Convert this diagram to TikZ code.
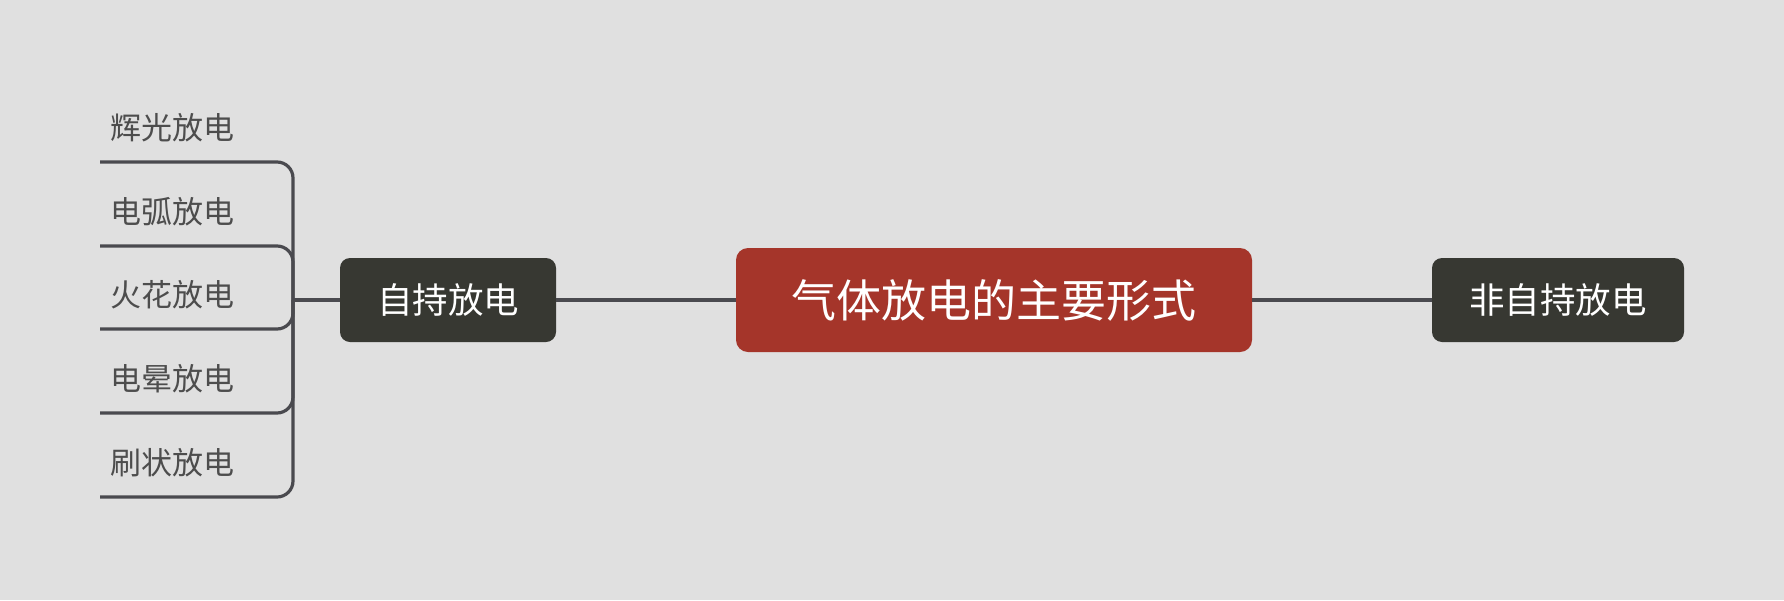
\documentclass[tikz,border=0pt]{standalone}
\usepackage{fontspec}
\newfontfamily\cjk{Noto Sans CJK SC}
\definecolor{bg}{HTML}{E0E0E0}
\definecolor{boxdark}{HTML}{373832}
\definecolor{boxred}{HTML}{A5352A}
\definecolor{linegray}{HTML}{4A4A4F}
\definecolor{leafgray}{HTML}{4D4D4D}

\begin{document}
\begin{tikzpicture}[x=1pt, y=-1pt,
	topic/.style={fill=boxdark, text=white, rounded corners=10pt, minimum height=84pt, inner sep=0pt, font=\cjk\fontsize{35.5}{36}\selectfont},
	leaf/.style={anchor=south west, inner xsep=10pt, inner ysep=22pt, text depth=0pt, text=leafgray, font=\cjk\fontsize{31}{31}\selectfont},
	link/.style={draw=linegray, line width=3.2pt}]
	\fill[bg] (0,0) rectangle (1784,600);
	\useasboundingbox (0,0) rectangle (1784,600);
	\node[topic, fill=boxred, rounded corners=12pt, minimum width=516pt, minimum height=104pt, font=\cjk\fontsize{45}{46}\selectfont] (root) at (994,300) {气体放电的主要形式};
	\node[topic, minimum width=216pt] (self) at (448,300) {自持放电};
	\node[topic, minimum width=252pt] (nonself) at (1558,300) {非自持放电};
	\draw[link] (root.west) -- (self.east);
	\draw[link] (root.east) -- (nonself.west);
	\coordinate (fork) at (293,300);
	\draw[link] (self.west) -- (fork);
	\foreach \ly/\lname/\ltext in {162/glow/辉光放电, 246/arc/电弧放电, 329/spark/火花放电, 413/corona/电晕放电, 497/brush/刷状放电}{
		\node[leaf] (\lname) at (100,\ly) {\ltext};
		\draw[link, rounded corners=16pt] (fork) |- (\lname.south west);
	}
\end{tikzpicture}
\end{document}
